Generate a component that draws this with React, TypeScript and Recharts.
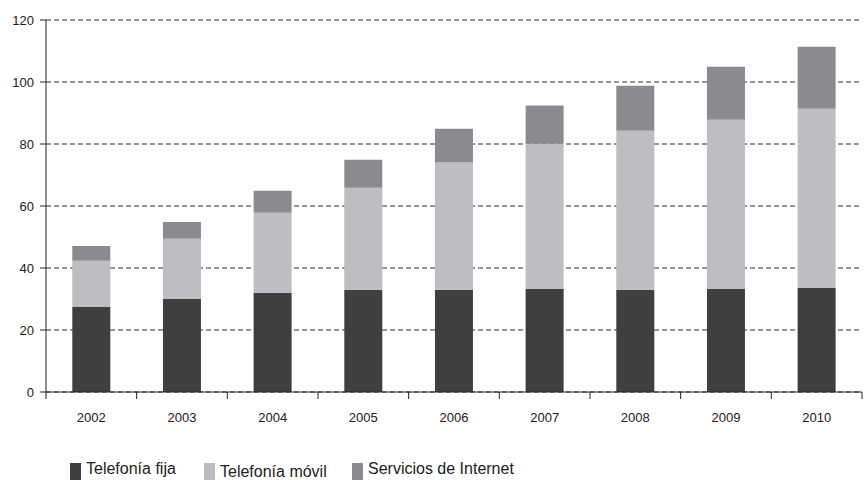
import { BarChart, Bar, XAxis, YAxis, CartesianGrid, Legend } from 'recharts';

const years = ['2002', '2003', '2004', '2005', '2006', '2007', '2008', '2009', '2010'];
const fija = [27.4, 30.0, 32.0, 33.0, 33.0, 33.3, 33.0, 33.3, 33.6];
const movil = [14.9, 19.4, 25.8, 32.9, 41.0, 46.8, 51.3, 54.5, 57.8];
const internet = [4.8, 5.4, 7.1, 9.0, 10.9, 12.3, 14.5, 17.1, 20.0];
const yTicks = [0, 20, 40, 60, 80, 100, 120];

const series = [
    { key: 'fija', name: 'Telefonía fija', color: '#3f3f3f' },
    { key: 'movil', name: 'Telefonía móvil', color: '#bdbec2' },
    { key: 'internet', name: 'Servicios de Internet', color: '#8a8b8f' },
];

const data = years.map((y, i) => ({
    year: y,
    fija: fija[i],
    movil: movil[i],
    internet: internet[i],
}));

const FONT = '"Liberation Sans Narrow", "Liberation Sans", Arial, sans-serif';
const AXIS_FONT = '"Liberation Sans", Arial, sans-serif';
const PLOT_LEFT = 46;
const PLOT_RIGHT = 862;
const BAND = (PLOT_RIGHT - PLOT_LEFT) / years.length;

const XTick = (props: any) => {
    const { x, y, payload, index } = props;
    const top = y - 8;
    return (
        <g>
            {index === 0 && <line x1={x - BAND / 2} x2={x - BAND / 2} y1={top} y2={top + 7} stroke="#222" />}
            <line x1={x + BAND / 2} x2={x + BAND / 2} y1={top} y2={top + 7} stroke="#222" />
            <text x={x} y={top + 30} textAnchor="middle" fontSize={13} fill="#222" fontFamily={AXIS_FONT}>
                {payload.value}
            </text>
        </g>
    );
};

const legendX = [70, 204, 352];
const legendDy = [0, 3, 0];

const LegendContent = () => (
    <div style={{ position: 'relative', width: 867, height: 30 }}>
        {series.map((s, i) => (
            <div
                key={s.key}
                style={{
                    position: 'absolute',
                    left: legendX[i],
                    top: legendDy[i],
                    display: 'flex',
                    alignItems: 'flex-start',
                    fontFamily: FONT,
                    fontSize: 16,
                    lineHeight: '18px',
                    color: '#222',
                }}
            >
                <span style={{ display: 'inline-block', width: 11, height: 18, background: s.color, marginRight: 5, marginTop: 3 - legendDy[i] }} />
                <span>{s.name}</span>
            </div>
        ))}
    </div>
);

export default function App() {
    return (
        <div style={{ width: 867, height: 480, background: '#fff', overflow: 'hidden' }}>
            <style>{'body{margin:0;}'}</style>
            <BarChart
                width={867}
                height={480}
                data={data}
                margin={{ top: 20, right: 5, left: 0, bottom: 0 }}
                barCategoryGap="29%"
            >
                <CartesianGrid vertical={false} stroke="#333" strokeDasharray="5 3" />
                <XAxis
                    dataKey="year"
                    height={58}
                    axisLine={{ stroke: '#222' }}
                    tickLine={false}
                    tick={<XTick />}
                    interval={0}
                />
                <YAxis
                    width={46}
                    domain={[0, 120]}
                    ticks={yTicks}
                    axisLine={{ stroke: '#222' }}
                    tickLine={{ stroke: '#222' }}
                    tickSize={6}
                    tickMargin={6}
                    tick={{ fill: '#222', fontSize: 13, fontFamily: AXIS_FONT }}
                />
                {series.map((s) => (
                    <Bar key={s.key} dataKey={s.key} name={s.name} stackId="a" fill={s.color} isAnimationActive={false} />
                ))}
                <Legend
                    content={<LegendContent />}
                    wrapperStyle={{ position: 'absolute', left: 0, top: 460, width: 867 }}
                />
            </BarChart>
        </div>
    );
}
